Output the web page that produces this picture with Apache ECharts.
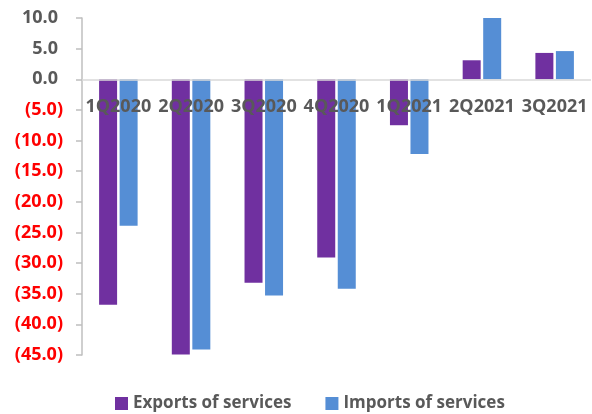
<!DOCTYPE html>
<html>
<head>
<meta charset="utf-8">
<script src="https://cdn.jsdelivr.net/npm/echarts@6/dist/echarts.min.js"></script>
<style>
  html, body { margin: 0; padding: 0; background: #fff; }
  #chart { width: 592px; height: 414px; }
</style>
</head>
<body>
<div id="chart"></div>
<script>
// Quarterly year-on-year change of services trade (%)
const quarters = ['1Q2020', '2Q2020', '3Q2020', '4Q2020', '1Q2021', '2Q2021', '3Q2021'];
const exportsOfServices = [-36.8, -44.9, -33.2, -29.1, -7.5, 3.1, 4.3];
const importsOfServices = [-23.9, -44.1, -35.3, -34.2, -12.2, 10.1, 4.6];
const seriesNames = ['Exports of services', 'Imports of services'];

const FONT = '"Open Sans", "Liberation Sans", sans-serif';
const GREY_TEXT = '#595959';

const GRID_TOP = 18, GRID_BOTTOM = 59, Y_MIN = -45, Y_MAX = 10;
const plotHeight = 414 - GRID_TOP - GRID_BOTTOM;
// distance from the bottom edge of the plot up to the zero line
const zeroOffset = plotHeight * (0 - Y_MIN) / (Y_MAX - Y_MIN);

const chart = echarts.init(document.getElementById('chart'), null, { renderer: 'canvas' });

chart.setOption({
  animation: false,
  grid: { left: 82, right: 1, top: GRID_TOP, bottom: GRID_BOTTOM, containLabel: false },
  legend: {
    bottom: -3,
    left: 110,
    icon: 'rect',
    itemWidth: 13,
    itemHeight: 13,
    itemGap: 34,
    data: seriesNames,
    textStyle: { fontFamily: FONT, fontWeight: 'bold', fontSize: 17, color: GREY_TEXT }
  },
  xAxis: {
    type: 'category',
    data: quarters,
    axisLine: { show: false },
    axisTick: { show: false },
    axisLabel: {
      // category labels sit just under the zero line, drawn over the bars
      margin: -(zeroOffset - 19),
      interval: 0,
      fontFamily: FONT, fontWeight: 'bold', fontSize: 18, color: GREY_TEXT
    },
    zlevel: 1,
    z: 5
  },
  yAxis: {
    type: 'value',
    min: Y_MIN,
    max: Y_MAX,
    interval: 5,
    splitLine: { show: false },
    axisLine: { show: true, lineStyle: { color: '#bfbfbf', width: 1.5 } },
    axisTick: { show: true, inside: false, length: 6, lineStyle: { color: '#bfbfbf', width: 1.5 } },
    axisLabel: {
      margin: 19,
      formatter: function (v) {
        if (v < 0) return '{n|(' + Math.abs(v).toFixed(1) + ')}';
        return '{p|' + v.toFixed(1) + '}';
      },
      rich: {
        n: { fontFamily: FONT, fontWeight: 'bold', fontSize: 18, color: '#ff0000' },
        p: { fontFamily: FONT, fontWeight: 'bold', fontSize: 18, color: GREY_TEXT, padding: [0, 5, 0, 0] }
      }
    }
  },
  series: [
    {
      name: seriesNames[0],
      type: 'bar',
      data: exportsOfServices,
      barWidth: 18,
      barGap: '14%',
      itemStyle: { color: '#7030a0' },
      markLine: {
        silent: true,
        symbol: 'none',
        label: { show: false },
        lineStyle: { color: '#d9d9d9', width: 1.5, type: 'solid' },
        data: [{ yAxis: 0 }],
        z: 10
      }
    },
    {
      name: seriesNames[1],
      type: 'bar',
      data: importsOfServices,
      barWidth: 18,
      itemStyle: { color: '#558ed5' }
    }
  ]
});
</script>
</body>
</html>
